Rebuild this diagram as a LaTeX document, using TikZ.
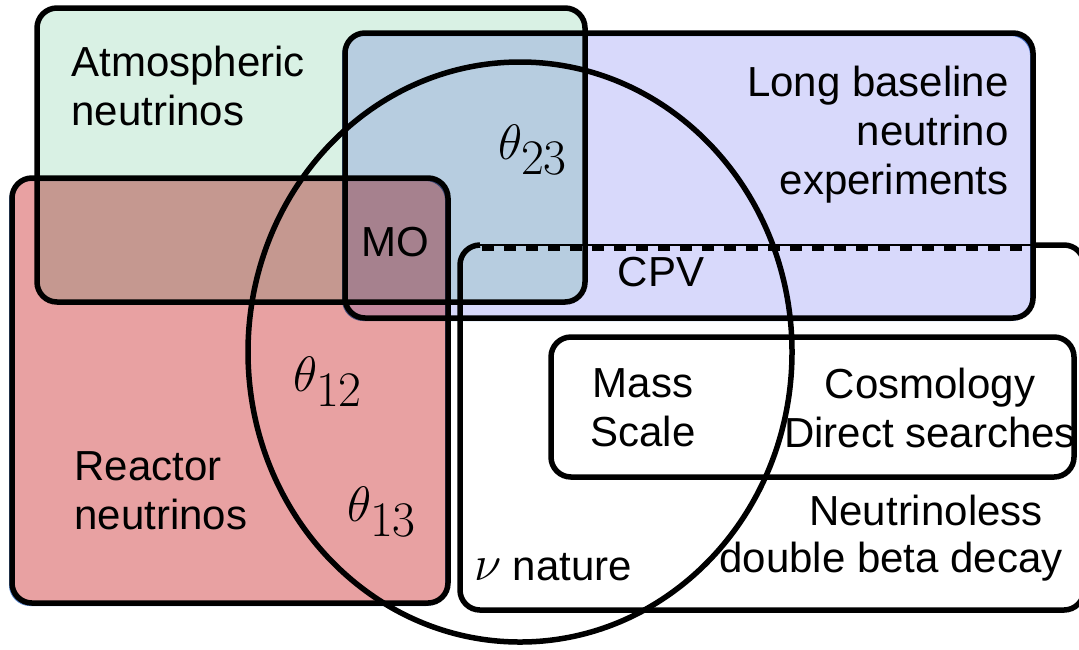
\documentclass[tikz,border=0pt]{standalone}
\usepackage{fontspec}
\setmainfont{Liberation Sans}
\usetikzlibrary{positioning}

\definecolor{atmofill}{HTML}{D9F1E4}
\definecolor{lbfill}{HTML}{D8D9FB}
\definecolor{reacfill}{HTML}{E8A1A2}
\definecolor{edgeblue}{HTML}{5A8AD0}

\tikzstyle{venn} = [draw=black, line width=2.75pt, rounded corners=10pt]
\tikzstyle{lbl} = [font=\fontsize{21}{24.5}\selectfont, inner sep=0pt]
\tikzstyle{anglbl} = [font=\fontsize{34}{36}\selectfont, inner sep=0pt]

\begin{document}
\begin{tikzpicture}[x=0.5pt,y=-0.5pt]
\useasboundingbox (0,0) rectangle (1079,649);
\clip (0,0) rectangle (1079,649);
%------------ fills of the three experiment boxes ---------------------
\begin{scope}[blend group=multiply]
    \fill[atmofill, rounded corners=10pt] (37,8) rectangle (585,302);
    \filldraw[fill=lbfill, draw=edgeblue, line width=1pt, rounded corners=10pt] (343,35) rectangle (1031,320);
    \filldraw[fill=reacfill, draw=edgeblue, line width=1pt, rounded corners=10pt] (10,180) rectangle (446,605);
\end{scope}
%------------ outlines ---------------------
\draw[venn] (37,8) rectangle (585,302);
\draw[venn] (345,33) rectangle (1033,318);
\draw[venn] (12,178) rectangle (448,603);
\draw[venn] (1033,245) -- (1084,245) -- (1084,610) -- (460,610) -- (460,245) -- (480,245);
\draw[line width=1pt] (478,245) -- (1035,245);
\draw[line width=3pt, dash pattern=on 6pt off 5pt] (482,248) -- (1035,248);
\draw[venn] (551,337) rectangle (1074,477);
\draw[line width=2.75pt] (520,352) ellipse [x radius=136pt, y radius=145pt];
%------------ labels ---------------------
\node[lbl, align=left, anchor=west] (atmo) at (71,86) {Atmospheric\\neutrinos};
\node[lbl, align=right, anchor=east] (longbl) at (1009,135) {Long baseline\\neutrino\\experiments};
\node[lbl, align=left, anchor=west] (reactor) at (74,491) {Reactor\\neutrinos};
\node[anglbl] (t23) at (533,150) {$\theta_{23}$};
\node[anglbl] (t12) at (328,382) {$\theta_{12}$};
\node[anglbl] (t13) at (382,512) {$\theta_{13}$};
\node[lbl] (mo) at (395,242) {MO};
\node[lbl] (cpv) at (661,272) {CPV};
\node[lbl, align=center] (mass) at (643,408) {Mass\\Scale};
\node[lbl, align=center] (cosmo) at (930,408) {Cosmology\\Direct searches};
\node[lbl] (nuless) at (926,510) {Neutrinoless};
\node[lbl] (dbd) at (891,562) {double beta decay};
\node[lbl] (nunat) at (553,567) {{\fontsize{27}{27}\selectfont$\nu$} nature};
\end{tikzpicture}
\end{document}
